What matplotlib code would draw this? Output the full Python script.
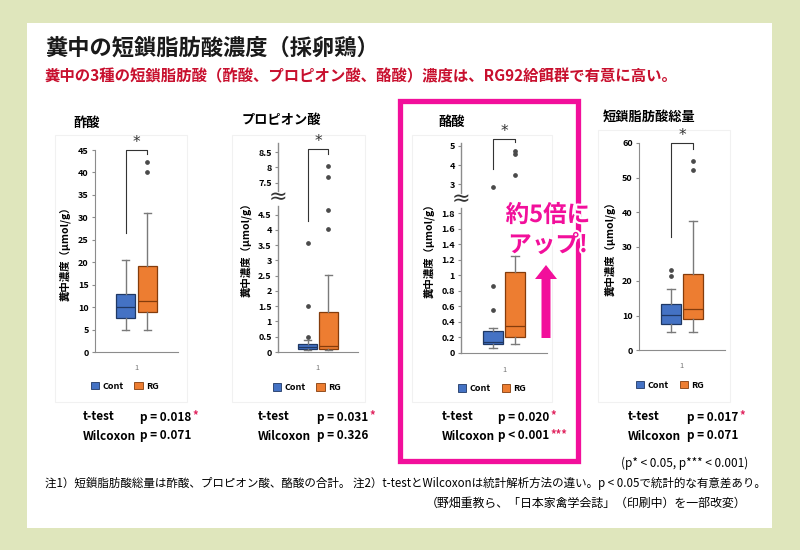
import numpy as np
import matplotlib
matplotlib.use('Agg')
import matplotlib.pyplot as plt
from matplotlib.patches import Rectangle, FancyArrow, Patch
from matplotlib.text import Annotation
import matplotlib.patheffects as pe

plt.rcParams['font.family'] = ['Noto Sans CJK JP', 'DejaVu Sans']

# ---- datos ----
panel_titles = ['酢酸', 'プロピオン酸', '酪酸', '短鎖脂肪酸総量']
groups = ['Cont', 'RG']
# [whislo, q1, med, q3, whishi]
cont_box = [[5.0, 7.5, 10.0, 13.0, 20.5],
            [0.05, 0.10, 0.17, 0.26, 0.40],
            [0.06, 0.12, 0.14, 0.28, 0.32],
            [5.1, 7.5, 10.1, 13.2, 17.8]]
rg_box = [[5.0, 9.0, 11.4, 19.2, 31.0],
          [0.05, 0.09, 0.19, 1.32, 2.54],
          [0.12, 0.21, 0.35, 1.04, 1.25],
          [5.1, 9.0, 11.8, 22.1, 37.4]]
cont_out = [[], [0.48, 1.52, 3.56], [0.55, 0.86, 2.86], [21.5, 23.3]]
rg_out = [[40.2, 42.3], [4.04, 4.64, 7.67, 8.05], [3.47, 4.57, 4.74], [52.1, 54.8]]

yticks = [[0, 5, 10, 15, 20, 25, 30, 35, 40, 45],
          [0, 0.5, 1, 1.5, 2, 2.5, 3, 3.5, 4, 4.5, 7.5, 8, 8.5],
          [0, 0.2, 0.4, 0.6, 0.8, 1, 1.2, 1.4, 1.6, 1.8, 3, 4, 5],
          [0, 10, 20, 30, 40, 50, 60]]
ytop = [45, 8.8, 5.15, 60]

ttest_p = ['p = 0.018', 'p = 0.031', 'p = 0.020', 'p = 0.017']
ttest_star = ['*', '*', '*', '*']
wilcox_p = ['p = 0.071', 'p = 0.326', 'p < 0.001', 'p = 0.071']
wilcox_star = ['', '', '***', '']

# ---- estilo / posiciones ----
W, H = 800, 550
BG = '#dfe6bc'
PINK = '#f20f9b'
RED_STAR = '#e0245e'
C_FILL, C_EDGE = '#4472c4', '#1f3864'
R_FILL, R_EDGE = '#ed7d31', '#843c0c'
SPINE = '#8c8c8c'

# rectángulos de ejes en píxeles: izq, arriba, der, abajo
ax_px = [(95, 150, 178, 352), (278, 143, 358, 352),
         (461, 143, 547, 353), (639, 143, 725, 350)]
positions = [0.87, 1.13]
# cortes de eje: (a, b, hueco, factor)
breaks = [None, (4.8, 7.24, 0.49, 1.0), (1.875, 2.57, 0.194, 0.248), None]
bracket = [(26.5, 45.0, 44.2), (4.3, 8.61, 8.43), (3.78, 5.38, 5.18), (32.8, 60.0, 58.2)]
frames = [(55, 135, 187, 402), (232, 135, 365, 402), (412, 135, 552, 402), (598, 130, 730, 402)]
title_px = [(73, 123), (242, 120), (438, 122), (603, 117)]
stat_x = [(83, 140), (258, 317), (442, 498), (628, 687)]


def make_scale(a, b, gap, k):
    def fwd(y):
        y = np.asarray(y, float)
        return np.where(y <= a, y,
                        np.where(y >= b, a + gap + (y - b) * k, a + (y - a) * gap / (b - a)))

    def inv(z):
        z = np.asarray(z, float)
        return np.where(z <= a, z,
                        np.where(z >= a + gap, b + (z - a - gap) / k, a + (z - a) * (b - a) / gap))
    return fwd, inv


fig = plt.figure(figsize=(W / 100, H / 100), dpi=100, facecolor=BG)

bg = fig.add_axes([0, 0, 1, 1], zorder=-1)
bg.set_xlim(0, W)
bg.set_ylim(H, 0)
bg.axis('off')
bg.add_patch(Rectangle((27, 23), 745, 505, facecolor='white', edgecolor='none'))
for (l, t, r, b) in frames:
    bg.add_patch(Rectangle((l, t), r - l, b - t, fill=False, edgecolor='#f1f1f1', lw=0.8))


def fmt(v):
    return ('%g' % v)


for i in range(4):
    l, t, r, b = ax_px[i]
    ax = fig.add_axes([l / W, 1 - b / H, (r - l) / W, (b - t) / H])
    ax.patch.set_alpha(0)
    if breaks[i] is not None:
        fwd, inv = make_scale(*breaks[i])
        ax.set_yscale('function', functions=(fwd, inv))
    stats = []
    for box, out in ((cont_box[i], cont_out[i]), (rg_box[i], rg_out[i])):
        stats.append(dict(whislo=box[0], q1=box[1], med=box[2], q3=box[3], whishi=box[4], fliers=out))
    bp = ax.bxp(stats, positions=positions, widths=0.23, patch_artist=True,
                showfliers=True,
                whiskerprops=dict(color='#7a7a7a', lw=1.0),
                capprops=dict(color='#7a7a7a', lw=1.0),
                flierprops=dict(marker='o', markersize=2.4, markerfacecolor='#4a4a4a',
                                markeredgecolor='#4a4a4a'),
                manage_ticks=False)
    for j, (fc, ec) in enumerate([(C_FILL, C_EDGE), (R_FILL, R_EDGE)]):
        bp['boxes'][j].set(facecolor=fc, edgecolor=ec, lw=0.9)
        bp['medians'][j].set(color=ec, lw=0.9)
    for c in bp['caps']:
        xd = c.get_xdata()
        mid = xd.mean()
        c.set_xdata([mid - 0.045, mid + 0.045])

    ax.set_xlim(0.5, 1.5)
    ax.set_ylim(0, ytop[i])
    ax.set_yticks(yticks[i])
    ax.set_yticklabels([fmt(v) for v in yticks[i]], fontsize=6.5, fontweight='bold')
    ax.set_xticks([1])
    ax.set_xticklabels(['1'], fontsize=5.5, color='#777777')
    ax.tick_params(axis='x', length=0, pad=9)
    ax.tick_params(axis='y', length=2.5, color=SPINE, pad=2)
    for s in ('top', 'right'):
        ax.spines[s].set_visible(False)
    ax.spines['bottom'].set_color(SPINE)
    ax.spines['left'].set_color(SPINE)
    if breaks[i] is not None:
        a, bb_, gap, k = breaks[i]
        ax.spines['left'].set_visible(False)
        tr = ax.get_yaxis_transform()
        ax.plot([0, 0], [0, a], transform=tr, color=SPINE, lw=1.0, clip_on=False)
        ax.plot([0, 0], [bb_, ytop[i]], transform=tr, color=SPINE, lw=1.0, clip_on=False)
        ax.text(0, (a + bb_) / 2 + (bb_ - a) * 0.05, '≈', transform=tr, ha='center', va='center',
                fontsize=16, color='#333333', family='DejaVu Sans')

    ax.set_ylabel('糞中濃度（μmol/g）', fontsize=7.5, fontweight='bold', labelpad=5)

    lo, top, drop = bracket[i]
    ax.plot([positions[0], positions[0], positions[1], positions[1]], [lo, top, top, drop],
            color='#333333', lw=0.8, clip_on=False)
    ax.annotate('*', xy=(np.mean(positions), top), xytext=(0, 0), textcoords='offset points',
                ha='center', va='bottom', fontsize=11, color='#333333', family='DejaVu Sans',
                annotation_clip=False)

    ax.legend(handles=[Patch(facecolor=C_FILL, edgecolor=C_EDGE, lw=0.6),
                       Patch(facecolor=R_FILL, edgecolor=R_EDGE, lw=0.6)],
              labels=groups, loc='center', bbox_to_anchor=(0.36, -0.17), ncol=2,
              frameon=False, handlelength=0.9, handleheight=0.9, handletextpad=0.4,
              columnspacing=1.2, prop=dict(size=6.5, weight='bold'))

ov = fig.add_axes([0, 0, 1, 1], zorder=10)
ov.set_xlim(0, W)
ov.set_ylim(H, 0)
ov.axis('off')
ov.patch.set_alpha(0)

ov.text(45, 48, '糞中の短鎖脂肪酸濃度（採卵鶏）', fontsize=16, fontweight='bold',
        va='center', ha='left', color='#1a1a1a')
ov.text(45, 76, '糞中の3種の短鎖脂肪酸（酢酸、プロピオン酸、酪酸）濃度は、RG92給餌群で有意に高い。',
        fontsize=11.1, fontweight='bold', va='center', ha='left', color='#c8102e')

for i in range(4):
    ov.text(title_px[i][0], title_px[i][1], panel_titles[i], fontsize=9.5, fontweight='bold',
            va='center', ha='left')
    x1, x2 = stat_x[i]
    ov.text(x1, 417, 't-test', fontsize=8.5, fontweight='bold', va='center')
    ov.text(x1, 436, 'Wilcoxon', fontsize=8.5, fontweight='bold', va='center')
    for y, ptxt, star in ((417, ttest_p[i], ttest_star[i]), (436, wilcox_p[i], wilcox_star[i])):
        t = ov.text(x2, y, ptxt, fontsize=8.5, fontweight='bold', va='center')
        if star:
            ann = Annotation(star, xy=(1, 1), xycoords=t, xytext=(0.5, 1), textcoords='offset points',
                             ha='left', va='top', fontsize=8, fontweight='bold', color=RED_STAR)
            ov.add_artist(ann)

ov.text(748, 463, '(p* < 0.05, p*** < 0.001)', fontsize=8.5, ha='right', va='center')
ov.text(45, 483, '注1）短鎖脂肪酸総量は酢酸、プロピオン酸、酪酸の合計。 注2）t-testとWilcoxonは統計解析方法の違い。p < 0.05で統計的な有意差あり。',
        fontsize=8.3, ha='left', va='center')
ov.text(746, 503, '（野畑重教ら、「日本家禽学会誌」（印刷中）を一部改変）', fontsize=8.6, ha='right', va='center')

# recuadro rosa y flecha
ov.add_patch(Rectangle((400, 100.5), 178, 360, fill=False, edgecolor=PINK, lw=3.8))
ov.add_patch(FancyArrow(546, 338, 0, -73, width=9, head_width=22, head_length=14,
                        length_includes_head=True, color=PINK, lw=0))
stroke = [pe.withStroke(linewidth=3, foreground='white')]
ov.text(548, 215, '約5倍に', fontsize=17, fontweight='bold', color=PINK, ha='center', va='center',
        path_effects=stroke)
ov.text(548, 245, 'アップ!', fontsize=17, fontweight='bold', color=PINK, ha='center', va='center',
        path_effects=stroke)

fig.savefig('out.png', dpi=100, facecolor=BG)
